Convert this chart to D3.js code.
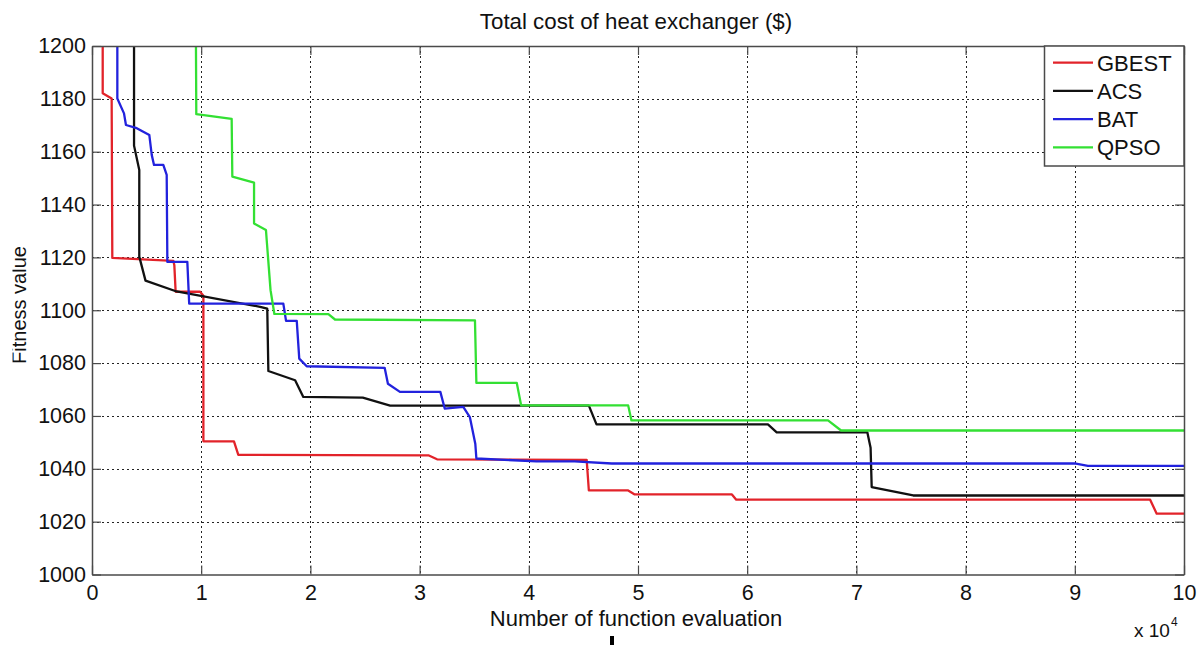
<!DOCTYPE html>
<html>
<head>
<meta charset="utf-8">
<script src="https://cdn.jsdelivr.net/npm/d3@7/dist/d3.min.js"></script>
<style>
  html, body { margin: 0; padding: 0; background: #fff; }
  svg { display: block; }
  text { font-family: "Liberation Sans", Arial, sans-serif; fill: #111; }
</style>
</head>
<body>
<svg id="chart" width="1204" height="645"></svg>
<script>
// Convergence curves: [function evaluations (x 10^4), best fitness]
const gbest = [
  [0.098, 1200], [0.098, 1182.1], [0.18, 1180.1], [0.186, 1119.8], [0.745, 1118.7],
  [0.754, 1117], [0.766, 1107], [0.99, 1107], [1.02, 1105.5], [1.02, 1050.4],
  [1.30, 1050.4], [1.34, 1045.3], [3.08, 1045.1], [3.16, 1043.6], [4.53, 1043.4],
  [4.55, 1031.8], [4.91, 1031.8], [4.97, 1030.3], [5.86, 1030.3], [5.90, 1028.3],
  [9.69, 1028.3], [9.75, 1023], [10, 1023]
];
const acs = [
  [0.385, 1200], [0.385, 1162.3], [0.433, 1153.1], [0.433, 1120.3], [0.49, 1111.2],
  [0.775, 1107.1], [1.54, 1101.3], [1.605, 1100.6], [1.615, 1077], [1.86, 1073.5],
  [1.935, 1067.2], [2.48, 1066.9], [2.73, 1063.9], [4.55, 1063.9], [4.62, 1056.8],
  [6.19, 1056.8], [6.27, 1053.8], [7.10, 1053.8], [7.13, 1048], [7.14, 1033.1],
  [7.52, 1029.9], [10, 1029.9]
];
const bat = [
  [0.232, 1200], [0.232, 1180.1], [0.293, 1174.5], [0.311, 1170.1], [0.41, 1168.9],
  [0.525, 1166.3], [0.547, 1158.8], [0.568, 1155], [0.653, 1155], [0.684, 1151.2],
  [0.69, 1118.3], [0.873, 1118.3], [0.89, 1102.5], [1.752, 1102.5], [1.777, 1096],
  [1.875, 1096], [1.898, 1081.7], [1.966, 1078.8], [2.68, 1078.2], [2.71, 1072.2],
  [2.82, 1069.1], [3.19, 1069.1], [3.23, 1062.8], [3.40, 1063.4], [3.46, 1059.6],
  [3.51, 1049.5], [3.52, 1043.9], [4.07, 1042.8], [4.42, 1042.8], [4.76, 1042],
  [9.01, 1042], [9.12, 1041.1], [10, 1041.1]
];
const qpso = [
  [0.952, 1200], [0.955, 1174.2], [1.279, 1172.4], [1.285, 1150.6], [1.484, 1148.3],
  [1.484, 1132.8], [1.593, 1130.4], [1.60, 1126.5], [1.635, 1107.6], [1.67, 1098.6],
  [2.165, 1098.5], [2.225, 1096.5], [3.507, 1096.2], [3.52, 1072.5], [3.89, 1072.5],
  [3.93, 1064], [4.91, 1064], [4.94, 1058.3], [6.74, 1058.3], [6.86, 1054.5],
  [10, 1054.5]
];

const seriesNames = ["GBEST", "ACS", "BAT", "QPSO"];
const seriesData = [gbest, acs, bat, qpso];
const seriesColors = ["#e2232a", "#111111", "#2222dd", "#33e033"];

const xTicks = [0, 1, 2, 3, 4, 5, 6, 7, 8, 9, 10];
const yTicks = [1000, 1020, 1040, 1060, 1080, 1100, 1120, 1140, 1160, 1180, 1200];

const chartTitle = "Total cost of heat exchanger ($)";
const xTitle = "Number of function evaluation";
const yTitle = "Fitness value";

// Layout
const plot = { left: 92, right: 1184, top: 46, bottom: 574.5 };
const svg = d3.select("#chart");
const x = d3.scaleLinear().domain([0, 10]).range([plot.left, plot.right]);
const y = d3.scaleLinear().domain([1000, 1200]).range([plot.bottom, plot.top]);
const axisColor = "#4a4a4a";
const fontSize = 21.5;

// Dotted grid
const grid = svg.append("g").attr("stroke", "#222").attr("stroke-width", 1)
  .attr("stroke-dasharray", "2,3");
grid.selectAll(".gx").data(xTicks.slice(1, -1)).join("line")
  .attr("x1", d => Math.round(x(d)) + 0.5).attr("x2", d => Math.round(x(d)) + 0.5)
  .attr("y1", plot.top).attr("y2", plot.bottom);
grid.selectAll(".gy").data(yTicks.slice(1, -1)).join("line")
  .attr("y1", d => Math.round(y(d)) + 0.5).attr("y2", d => Math.round(y(d)) + 0.5)
  .attr("x1", plot.left).attr("x2", plot.right);

// Series
svg.append("defs").append("clipPath").attr("id", "plotClip")
  .append("rect").attr("x", plot.left).attr("y", plot.top)
  .attr("width", plot.right - plot.left).attr("height", plot.bottom - plot.top);

const line = d3.line().x(d => x(d[0])).y(d => y(d[1]));
svg.append("g").attr("clip-path", "url(#plotClip)")
  .selectAll("path").data(seriesData).join("path")
  .attr("d", line)
  .attr("fill", "none")
  .attr("stroke", (d, i) => seriesColors[i])
  .attr("stroke-width", 2.3)
  .attr("stroke-linejoin", "round");

// Axes with inward ticks on all four sides
function styleAxis(g) {
  g.select(".domain").attr("stroke", axisColor).attr("stroke-width", 1.5);
  g.selectAll(".tick line").attr("stroke", axisColor).attr("stroke-width", 1.2);
  g.selectAll(".tick text").attr("font-size", fontSize)
    .attr("font-family", "'Liberation Sans', Arial, sans-serif").attr("fill", "#111");
}
svg.append("g").attr("transform", `translate(0,${plot.bottom})`)
  .call(d3.axisBottom(x).tickValues(xTicks).tickSize(-9).tickSizeOuter(0).tickPadding(10)
    .tickFormat(d3.format("d")))
  .call(styleAxis);
svg.append("g").attr("transform", `translate(0,${plot.top})`)
  .call(d3.axisTop(x).tickValues(xTicks).tickSize(-9).tickSizeOuter(0).tickFormat(""))
  .call(styleAxis);
svg.append("g").attr("transform", `translate(${plot.left},0)`)
  .call(d3.axisLeft(y).tickValues(yTicks).tickSize(-9).tickSizeOuter(0).tickPadding(6)
    .tickFormat(d3.format("d")))
  .call(styleAxis);
svg.append("g").attr("transform", `translate(${plot.right},0)`)
  .call(d3.axisRight(y).tickValues(yTicks).tickSize(-9).tickSizeOuter(0).tickFormat(""))
  .call(styleAxis);

// Titles
svg.append("text").attr("x", (plot.left + plot.right) / 2 - 2).attr("y", 29)
  .attr("text-anchor", "middle").attr("font-size", 22.3).text(chartTitle);
svg.append("text").attr("x", (plot.left + plot.right) / 2 - 2).attr("y", 626)
  .attr("text-anchor", "middle").attr("font-size", 22).text(xTitle);

svg.append("defs").append("clipPath").attr("id", "yTitleClip")
  .append("rect").attr("x", 12.5).attr("y", 0).attr("width", 40).attr("height", 645);
svg.append("g").attr("clip-path", "url(#yTitleClip)")
  .append("text").attr("transform", "translate(26,305) rotate(-90)")
  .attr("text-anchor", "middle").attr("font-size", 20).text(yTitle);

// Exponent of the x axis
const expo = svg.append("text").attr("x", 1134).attr("y", 637).attr("font-size", 19);
expo.append("tspan").text("x 10");
expo.append("tspan").attr("font-size", 12).attr("dy", -11).attr("dx", 1).text("4");

// Small mark below the axis label
svg.append("rect").attr("x", 610).attr("y", 636).attr("width", 4).attr("height", 9).attr("fill", "#000");

// Legend
const legend = svg.append("g");
legend.append("rect").attr("x", 1044.5).attr("y", plot.top).attr("width", plot.right - 1044.5)
  .attr("height", 120).attr("fill", "#fff").attr("stroke", axisColor).attr("stroke-width", 1.5);
const rowY = d3.scaleLinear().domain([0, 3]).range([62.7, 147.3]);
const rows = legend.selectAll(".row").data(seriesNames).join("g")
  .attr("transform", (d, i) => `translate(0,${rowY(i)})`);
rows.append("line").attr("x1", 1053).attr("x2", 1093).attr("y1", 0).attr("y2", 0)
  .attr("stroke", (d, i) => seriesColors[i]).attr("stroke-width", 2.3);
rows.append("text").attr("x", 1097).attr("y", 8).attr("font-size", 22).text(d => d);
</script>
</body>
</html>
